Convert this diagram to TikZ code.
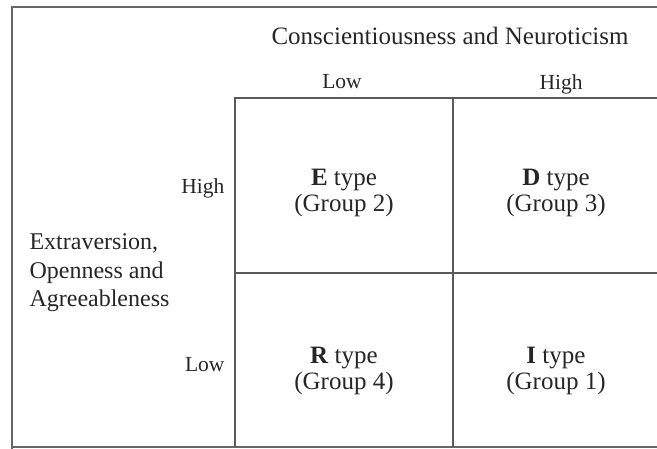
\documentclass[tikz,border=0pt]{standalone}
\usepackage{fontspec}
\setmainfont{Liberation Serif}
\usetikzlibrary{positioning}

\begin{document}
\begin{tikzpicture}
			[x=1pt, y=-1pt,
			 frame/.style={line width=1.8pt, draw=black!60},
			 grid/.style={line width=1.2pt, draw=black!65},
			 cell/.style={align=center, text=black!85, font=\fontsize{25}{26.5}\selectfont},
			 level/.style={text=black!85, font=\fontsize{21.5}{24}\selectfont},
			 axis/.style={text=black!85, font=\fontsize{24}{28.5}\selectfont}]
			\useasboundingbox (0,0) rectangle (657,449);
			% outer frame (open on the right)
			\coordinate (FTL) at (12,7);
			\coordinate (FTR) at (657,7);
			\coordinate (FBL) at (12,447);
			\coordinate (FBR) at (657,447);
			\draw[frame] (FTR) -- (FTL) -- (12,449);
			\draw[frame] (FBL) -- (FBR);
			% quadrant grid
			\coordinate (GTL) at (235,98);
			\coordinate (GTM) at (453,98);
			\coordinate (GTR) at (657,98);
			\coordinate (GML) at (235,273);
			\coordinate (GMR) at (657,273);
			\coordinate (GBL) at (235,447);
			\coordinate (GBM) at (453,447);
			\draw[grid] (GTR) -- (GTL) -- (GBL);
			\draw[grid] (GTM) -- (GBM);
			\draw[grid] (GML) -- (GMR);
			% axis titles
			\node[axis, font=\fontsize{25}{28}\selectfont] (CN) at (450,36) {Conscientiousness and Neuroticism};
			\node[axis, anchor=west, align=left] (EOA) at (26,273) {Extraversion,\\Openness and\\Agreeableness};
			% levels
			\node[level] (CLow) at (342,82) {Low};
			\node[level] (CHigh) at (561,84) {High};
			\node[level, anchor=east] (EHigh) at (228,188) {High};
			\node[level, anchor=east] (ELow) at (228,365) {Low};
			% types
			\node[cell] (E) at (344,193) {\textbf{E} type\\(Group 2)};
			\node[cell] (D) at (556,193) {\textbf{D} type\\(Group 3)};
			\node[cell] (R) at (344,371) {\textbf{R} type\\(Group 4)};
			\node[cell] (I) at (556,371) {\textbf{I} type\\(Group 1)};
			\end{tikzpicture}
\end{document}
